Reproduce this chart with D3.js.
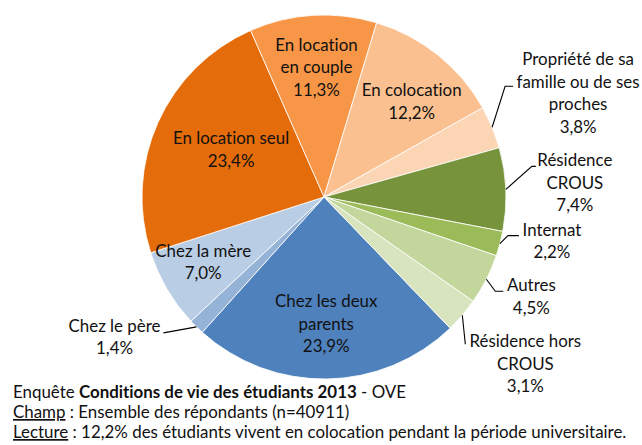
<!DOCTYPE html>
<html>
<head>
<meta charset="UTF-8">
<title>Logement des étudiants</title>
<script src="https://d3js.org/d3.v7.min.js"></script>
<style>
 body { margin: 0; background: #fff; }
 svg { display: block; }
 text { font-family: Lato, "Open Sans", sans-serif; fill: #111; font-variant-ligatures: none; }
</style>
</head>
<body>
<svg id="chart" width="642" height="445"></svg>
<script>
// data (order as drawn, clockwise)
const categories = ["Chez les deux parents", "Chez le père", "Chez la mère", "En location seul",
  "En location en couple", "En colocation", "Propriété de sa famille ou de ses proches",
  "Résidence CROUS", "Internat", "Autres", "Résidence hors CROUS"];
const values = [23.9, 1.4, 7.0, 23.4, 11.3, 12.2, 3.8, 7.4, 2.2, 4.5, 3.1];
const valueLabels = ["23,9%", "1,4%", "7,0%", "23,4%", "11,3%", "12,2%", "3,8%", "7,4%", "2,2%", "4,5%", "3,1%"];
const labelLines = [["Chez les deux", "parents"], ["Chez le père"], ["Chez la mère"], ["En location seul"],
  ["En location", "en couple"], ["En colocation"], ["Propriété de sa", "famille ou de ses", "proches"],
  ["Résidence", "CROUS"], ["Internat"], ["Autres"], ["Résidence hors", "CROUS"]];
const colors = ["#4F81BD", "#95B3D7", "#B9CDE5", "#E46C0A", "#F79646", "#FAC090", "#FCD5B5",
  "#77933C", "#9BBB59", "#C3D69B", "#D7E4BD"];

// layout
const cx = 324, cy = 197, R = 182;
const lh = 22.5;
const fs = "16.9px";
const start = 136.1 * Math.PI / 180;
// inside labels: radius factor + nudge ; outside labels: elbow / end / text offsets from the edge point
const inside = {
  0: {f: 0.73, dx: 0, dy: 0},
  2: {f: 0.77, dx: 0, dy: 0},
  3: {f: 0.56, dx: 0, dy: 0},
  4: {f: 0.68, dx: 0, dy: 0},
  5: {f: 0.70, dx: 8, dy: 10}
};
const outside = {
  1: {elbow: [-33, 6], end: [-33, 6], text: [-82, 5]},
  6: {elbow: [13, -41], end: [21, -41], text: [86, -62]},
  7: {elbow: [26, -23], end: [30, -23], text: [69, -23]},
  8: {elbow: [8, -8], end: [19, -8], text: [52, -8]},
  9: {elbow: [9, 12], end: [17, 12], text: [45, 12]},
  10: {elbow: [3, 29], end: [3, 29], text: [63, 32]}
};

const svg = d3.select("#chart");
const g = svg.append("g").attr("transform", "translate(" + cx + "," + cy + ")");

const pie = d3.pie().sort(null).value(d => d).startAngle(start).endAngle(start + 2 * Math.PI);
const arcs = pie(values);
const arc = d3.arc().innerRadius(0).outerRadius(R);

g.selectAll("path.slice").data(arcs).enter().append("path")
  .attr("class", "slice")
  .attr("d", arc)
  .attr("fill", (d, i) => colors[i])
  .attr("stroke", "#fff")
  .attr("stroke-width", 0.8);

function polar(a, r) { return [r * Math.sin(a), -r * Math.cos(a)]; }

function writeLines(x, y, lines) {
  const t = g.append("text").attr("text-anchor", "middle").style("font-size", fs);
  lines.forEach((s, k) => {
    t.append("tspan").attr("x", x).attr("y", y + k * lh).text(s);
  });
}

arcs.forEach((d, i) => {
  const mid = (d.startAngle + d.endAngle) / 2;
  const lines = labelLines[i].concat([valueLabels[i]]);
  if (inside[i]) {
    const o = inside[i];
    const p = polar(mid, R * o.f);
    const y0 = p[1] + o.dy - (lines.length - 1) * lh / 2;
    writeLines(p[0] + o.dx, y0, lines);
  } else {
    const o = outside[i];
    const e = polar(mid, R);
    const pts = [e, [e[0] + o.elbow[0], e[1] + o.elbow[1]], [e[0] + o.end[0], e[1] + o.end[1]]];
    g.append("path")
      .attr("d", d3.line()(pts))
      .attr("fill", "none")
      .attr("stroke", "#000")
      .attr("stroke-width", 1.1);
    writeLines(e[0] + o.text[0], e[1] + o.text[1], lines);
  }
});

// footer
const foot = svg.append("g").attr("transform", "translate(13,0)").style("font-size", fs);
const f1 = foot.append("text").attr("y", 398);
f1.append("tspan").text("Enquête ");
f1.append("tspan").style("font-weight", "bold").text("Conditions de vie des étudiants 2013");
f1.append("tspan").text(" - OVE");
const f2 = foot.append("text").attr("y", 418);
f2.append("tspan").style("text-decoration", "underline").text("Champ");
f2.append("tspan").text(" : Ensemble des répondants (n=40911)");
const f3 = foot.append("text").attr("y", 438);
f3.append("tspan").style("text-decoration", "underline").text("Lecture");
f3.append("tspan").text(" : 12,2% des étudiants vivent en colocation pendant la période universitaire.");
</script>
</body>
</html>
